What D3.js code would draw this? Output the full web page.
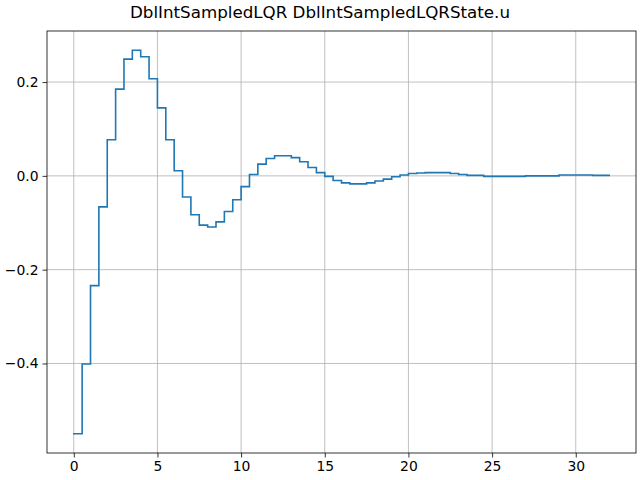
<!DOCTYPE html>
<html>
<head>
<meta charset="utf-8">
<script src="https://cdn.jsdelivr.net/npm/d3@7"></script>
<style>
  body { margin: 0; background: #fff; }
  svg { display: block; font-family: "DejaVu Sans", sans-serif; }
</style>
</head>
<body>
<div class="chart"></div>
<script>
// sampled control signal, one value every 0.5 s (steps-post)
const times = d3.range(0, 32.01, 0.5)
const uValues = [
  -0.550, -0.401, -0.234, -0.066, 0.077, 0.185, 0.249, 0.268,
  0.254, 0.207, 0.145, 0.077, 0.011, -0.045, -0.083, -0.105,
  -0.109, -0.098, -0.076, -0.051, -0.023, 0.003, 0.025, 0.037,
  0.043, 0.043, 0.039, 0.030, 0.018, 0.007, -0.001, -0.010,
  -0.015, -0.017, -0.017, -0.015, -0.011, -0.007, -0.002, 0.002,
  0.005, 0.006, 0.007, 0.007, 0.007, 0.005, 0.003, 0.001,
  0.001, -0.001, -0.001, -0.001, -0.001, -0.001, 0.000, 0.000,
  0.000, 0.000, 0.002, 0.002, 0.002, 0.002, 0.001, 0.001,
  0.001
]
const xTicks = [0, 5, 10, 15, 20, 25, 30]
const yTicks = [-0.4, -0.2, 0.0, 0.2]
const title = "DblIntSampledLQR DblIntSampledLQRState.u"

let data = times.map((t, i) => ({t: t, u: uValues[i]}))

let width = 640
let height = 480
var margin = {top: 31, right: 4, bottom: 27, left: 47}

// matplotlib style 5% margins
let xExt = d3.extent(data, d => d.t)
let yExt = d3.extent(data, d => d.u)
let xPad = (xExt[1] - xExt[0]) * 0.05
let yPad = (yExt[1] - yExt[0]) * 0.05

let x = d3.scaleLinear()
  .domain([xExt[0] - xPad, xExt[1] + xPad])
  .range([margin.left, width - margin.right])

let y = d3.scaleLinear()
  .domain([yExt[0] - yPad, yExt[1] + yPad])
  .range([height - margin.bottom, margin.top])

const fmtY = v => d3.format(".1f")(v).replace("-", "\u2212")

const svg = d3.select('.chart').append("svg")
  .attr("width", width)
  .attr("height", height)
  .attr("viewBox", [0, 0, width, height])

// grid
svg.append("g")
    .attr("stroke", "#b0b0b0")
    .attr("stroke-width", 0.8)
  .selectAll("line.gx")
  .data(xTicks)
  .join("line")
    .attr("x1", d => x(d)).attr("x2", d => x(d))
    .attr("y1", margin.top).attr("y2", height - margin.bottom)

svg.append("g")
    .attr("stroke", "#b0b0b0")
    .attr("stroke-width", 0.8)
  .selectAll("line.gy")
  .data(yTicks)
  .join("line")
    .attr("y1", d => y(d)).attr("y2", d => y(d))
    .attr("x1", margin.left).attr("x2", width - margin.right)

// the step line
let line = d3.line()
  .x(d => x(d.t))
  .y(d => y(d.u))
  .curve(d3.curveStepAfter)

svg.append("path")
  .datum(data)
  .attr("fill", "none")
  .attr("stroke", "#1f77b4")
  .attr("stroke-width", 1.6)
  .attr("stroke-linejoin", "miter")
  .attr("stroke-linecap", "square")
  .attr("d", line)

// axes
let xAxis = g => g
  .attr("transform", `translate(0,${height - margin.bottom})`)
  .call(d3.axisBottom(x).tickValues(xTicks).tickFormat(d3.format("d")).tickSize(4.5).tickPadding(4))
  .call(g => g.select(".domain").remove())

let yAxis = g => g
  .attr("transform", `translate(${margin.left},0)`)
  .call(d3.axisLeft(y).tickValues(yTicks).tickFormat(fmtY).tickSize(4.5).tickPadding(4))
  .call(g => g.select(".domain").remove())

svg.append("g").call(xAxis)
svg.append("g").call(yAxis)

svg.selectAll(".tick text")
  .attr("font-family", "DejaVu Sans, sans-serif")
  .attr("font-size", 13.9)
  .attr("fill", "#000")
svg.selectAll(".tick line").attr("stroke", "#000").attr("stroke-width", 0.8)

// frame
svg.append("rect")
  .attr("x", margin.left)
  .attr("y", margin.top)
  .attr("width", width - margin.right - margin.left)
  .attr("height", height - margin.bottom - margin.top)
  .attr("fill", "none")
  .attr("stroke", "#000")
  .attr("stroke-width", 0.8)

svg.append("text")
  .attr("x", width / 2)
  .attr("y", 18)
  .attr("text-anchor", "middle")
  .attr("font-size", 16.7)
  .attr("fill", "#000")
  .text(title)
</script>
</body>
</html>
